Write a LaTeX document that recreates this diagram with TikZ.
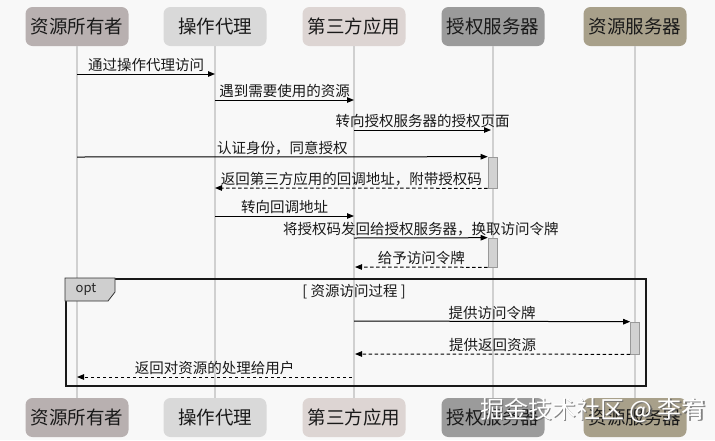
\documentclass[tikz,border=0pt]{standalone}
\usepackage{fontspec}
\newfontfamily\cjk{Noto Sans CJK SC}
\usetikzlibrary{arrows.meta}
\definecolor{bgc}{HTML}{F8F8F8}
\definecolor{ownc}{HTML}{B8B0B0}
\definecolor{agc}{HTML}{D9D9D9}
\definecolor{clc}{HTML}{DDD5D3}
\definecolor{asc}{HTML}{9B9B9B}
\definecolor{rsc}{HTML}{A8A08A}
\definecolor{lifec}{HTML}{D0D0D0}
\definecolor{actc}{HTML}{D2D2D2}
\definecolor{tabc}{HTML}{CFCFCF}
\begin{document}
\begin{tikzpicture}[x=1pt,y=-1pt,
  part/.style={rounded corners=7pt, minimum width=103pt, minimum height=39pt,
    font=\cjk\fontsize{18.5}{20}\selectfont, text=black!90, inner sep=0pt},
  life/.style={draw=lifec, line width=2pt},
  msg/.style={draw=black, line width=1pt, -{Triangle[length=7pt,width=5.5pt]}},
  ret/.style={msg, dash pattern=on 3.5pt off 2.5pt},
  lbl/.style={font=\cjk\fontsize{14.5}{16}\selectfont, inner sep=1.5pt, above, midway, text=black!90},
  act/.style={draw=gray!80, fill=actc, minimum width=9pt, inner sep=0pt, line width=0.6pt}
]
\fill[bgc] (0,0) rectangle (715,440);
\useasboundingbox (0,0) rectangle (715,440);

% participants
\node[part, fill=ownc] (p1) at (77,26.5) {资源所有者};
\node[part, fill=agc]  (p2) at (215,26.5) {操作代理};
\node[part, fill=clc]  (p3) at (354,26.5) {第三方应用};
\node[part, fill=asc]  (p4) at (493,26.5) {授权服务器};
\node[part, fill=rsc]  (p5) at (635,26.5) {资源服务器};
\node[part, fill=ownc] (q1) at (77,417.5) {资源所有者};
\node[part, fill=agc]  (q2) at (215,417.5) {操作代理};
\node[part, fill=clc]  (q3) at (354,417.5) {第三方应用};
\node[part, fill=asc]  (q4) at (493,417.5) {授权服务器};
\node[part, fill=rsc]  (q5) at (635,417.5) {资源服务器};

% lifelines
\foreach \i in {1,...,5} \draw[life] (p\i.south) -- (q\i.north);

% activation bars
\node[act, minimum height=31pt] (a1) at (492.5,172.5) {};
\node[act, minimum height=29pt] (a2) at (492.5,252.5) {};
\node[act, minimum height=32pt] (a3) at (635,338) {};

% messages
\coordinate (m1a) at (77,74);   \coordinate (m1b) at (215,74);
\draw[msg] (m1a) -- (m1b) node[lbl] {通过操作代理访问};
\coordinate (m2a) at (215,100); \coordinate (m2b) at (354,100);
\draw[msg] (m2a) -- (m2b) node[lbl] {遇到需要使用的资源};
\coordinate (m3a) at (354,130); \coordinate (m3b) at (491,130);
\draw[msg] (m3a) -- (m3b) node[lbl] {转向授权服务器的授权页面};
\coordinate (m4a) at (77,157);
\draw[msg] (m4a) -- (a1.north west) node[lbl] {认证身份，同意授权};
\coordinate (m5b) at (215,188);
\draw[ret] (a1.south west) -- (m5b) node[lbl] {返回第三方应用的回调地址，附带授权码};
\coordinate (m6a) at (215,216); \coordinate (m6b) at (354,216);
\draw[msg] (m6a) -- (m6b) node[lbl] {转向回调地址};
\coordinate (m7a) at (354,238);
\draw[msg] (m7a) -- (a2.north west) node[lbl] {将授权码发回给授权服务器，换取访问令牌};
\coordinate (m8b) at (355,267);
\draw[ret] (a2.south west) -- (m8b) node[lbl] {给予访问令牌};

% opt frame
\node[draw=black!90, line width=1.6pt, minimum width=580pt, minimum height=107pt,
  inner sep=0pt, anchor=north west] (opt) at (65,278) {};
\draw[fill=tabc, draw=black!80, line width=0.8pt] (65,278) -- (115,278) -- (115,292) -- (108,301) -- (65,301) -- cycle;
\node[font=\cjk\fontsize{13}{15}\selectfont, text=black!85] (optl) at (86,289.5) {opt};
\node[font=\cjk\fontsize{14.5}{16}\selectfont, text=black!90] (guard) at (354,292) {[ 资源访问过程 ]};

\coordinate (m9a) at (354,321);
\draw[msg] (m9a) -- (a3.north west) node[lbl] {提供访问令牌};
\coordinate (m10b) at (355,354);
\draw[ret] (a3.south west) -- (m10b) node[lbl] {提供返回资源};
\coordinate (m11a) at (352,377); \coordinate (m11b) at (77,377);
\draw[ret] (m11a) -- (m11b) node[lbl] {返回对资源的处理给用户};

% watermark
\node[font=\cjk\fontsize{24}{26}\selectfont, text=black!60, opacity=0.8] (wms) at (594.5,411.5) {掘金技术社区 @ 李宥};
\node[font=\cjk\fontsize{24}{26}\selectfont, text=white] (wm) at (593,410) {掘金技术社区 @ 李宥};
\end{tikzpicture}
\end{document}
